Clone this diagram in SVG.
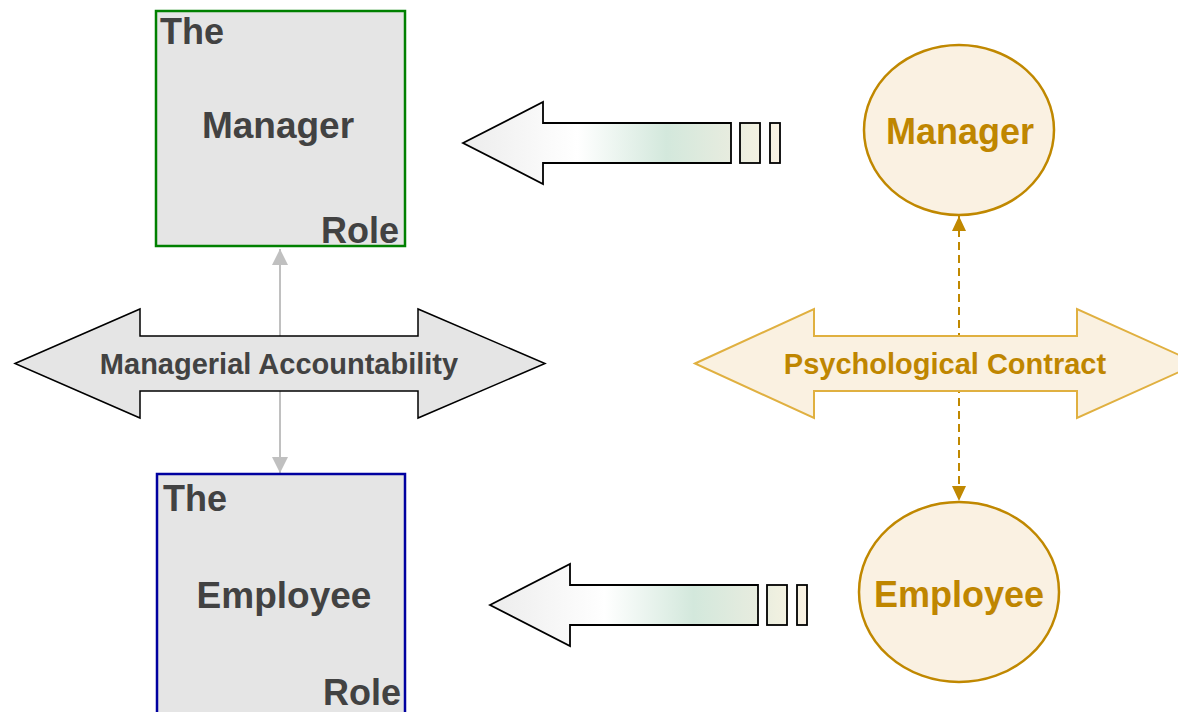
<svg xmlns="http://www.w3.org/2000/svg" width="1178" height="712" viewBox="0 0 1178 712">
  <style>
    text { font-family: "Liberation Sans", Arial, sans-serif; font-weight: bold; }
    .role-box { fill: #e5e5e5; stroke-width: 2.5; }
    .role-text { fill: #424242; font-size: 36px; }
    .role-mid { font-size: 37px; }
    .person { fill: #faf1e2; stroke: #c08800; stroke-width: 2.5; }
    .person-text { fill: #bf8600; font-size: 36px; text-anchor: middle; }
    .band-label { font-size: 29px; text-anchor: middle; }
    .flow { stroke: #000000; stroke-width: 1.8; stroke-linejoin: miter; }
    .link-gray { stroke: #c0c0c0; stroke-width: 2; fill: none; }
    .link-gold { stroke: #c08800; stroke-width: 2; fill: none; stroke-dasharray: 8 5; }
  </style>
  <defs>
    <linearGradient id="flowFill" gradientUnits="userSpaceOnUse" x1="463" y1="0" x2="781" y2="0">
      <stop offset="0" stop-color="#ececec"/>
      <stop offset="0.36" stop-color="#ffffff"/>
      <stop offset="0.64" stop-color="#d3e8dc"/>
      <stop offset="0.85" stop-color="#e8ecdf"/>
      <stop offset="0.9" stop-color="#eff0e0"/>
      <stop offset="1" stop-color="#faf2e3"/>
    </linearGradient>
    <marker id="grayHead" viewBox="0 0 16 16" refX="16" refY="8" markerWidth="16" markerHeight="16" markerUnits="userSpaceOnUse" orient="auto-start-reverse">
      <path d="M0,0 L16,8 L0,16 Z" fill="#c0c0c0"/>
    </marker>
    <marker id="goldHead" viewBox="0 0 15 14" refX="15" refY="7" markerWidth="15" markerHeight="14" markerUnits="userSpaceOnUse" orient="auto-start-reverse">
      <path d="M0,0 L15,7 L0,14 Z" fill="#c08800"/>
    </marker>
    <!-- left-pointing block arrow with two trailing segments -->
    <g id="flowArrow">
      <path class="flow" fill="url(#flowFill)" d="M463,143 L543,102 L543,123 L731,123 L731,163 L543,163 L543,184 Z"/>
      <rect class="flow" fill="url(#flowFill)" x="740" y="123" width="20" height="40"/>
      <rect class="flow" fill="url(#flowFill)" x="770" y="123" width="10" height="40"/>
    </g>
  </defs>

  <!-- connectors -->
  <g id="connectors">
    <line class="link-gray" x1="280" y1="249" x2="280" y2="473" marker-start="url(#grayHead)" marker-end="url(#grayHead)"/>
    <line class="link-gold" x1="959" y1="216" x2="959" y2="501" marker-start="url(#goldHead)" marker-end="url(#goldHead)"/>
  </g>

  <g id="manager-role">
    <rect class="role-box" stroke="#008000" x="156" y="11" width="249" height="235"/>
    <text class="role-text" x="160" y="44">The</text>
    <text class="role-text role-mid" x="278" y="138" text-anchor="middle">Manager</text>
    <text class="role-text" x="399" y="243" text-anchor="end">Role</text>
  </g>

  <g id="employee-role">
    <rect class="role-box" stroke="#0000a0" x="157" y="474" width="248" height="250"/>
    <text class="role-text" x="163" y="511">The</text>
    <text class="role-text role-mid" x="284" y="608" text-anchor="middle">Employee</text>
    <text class="role-text" x="401" y="705" text-anchor="end">Role</text>
  </g>

  <g id="managerial-accountability">
    <path d="M15,363.5 L140,309 L140,336 L418,336 L418,309 L545,363.5 L418,418 L418,391 L140,391 L140,418 Z" fill="#e5e5e5" stroke="#000000" stroke-width="1.5"/>
    <text class="band-label" x="279" y="374" fill="#424242">Managerial Accountability</text>
  </g>

  <g id="psychological-contract">
    <path d="M695,363.5 L814,309 L814,336 L1077,336 L1077,309 L1198,363.5 L1077,418 L1077,391 L814,391 L814,418 Z" fill="#faf1e1" stroke="#e0b040" stroke-width="2"/>
    <text class="band-label" x="945" y="374" fill="#bf8600">Psychological Contract</text>
  </g>

  <g id="manager-person">
    <ellipse class="person" cx="959" cy="130" rx="95" ry="85"/>
    <text class="person-text" x="960" y="144">Manager</text>
  </g>

  <g id="employee-person">
    <ellipse class="person" cx="959" cy="592" rx="100" ry="90"/>
    <text class="person-text" x="959" y="607">Employee</text>
  </g>

  <g id="flow-to-manager">
    <use href="#flowArrow"/>
  </g>

  <g id="flow-to-employee">
    <use href="#flowArrow" transform="translate(27,462)"/>
  </g>
</svg>
